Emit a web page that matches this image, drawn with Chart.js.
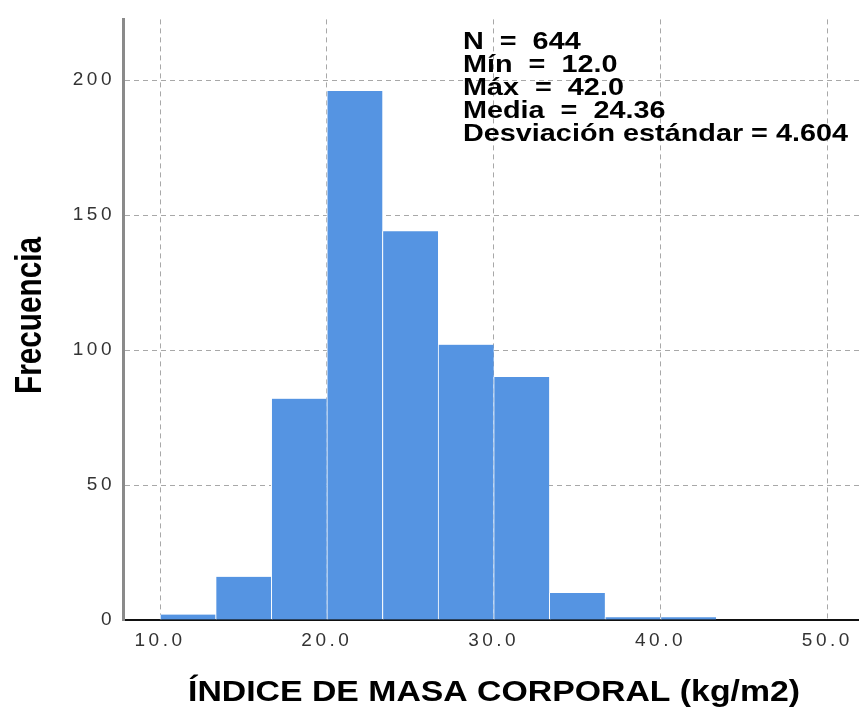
<!DOCTYPE html>
<html>
<head>
<meta charset="utf-8">
<script src="https://cdn.jsdelivr.net/npm/chart.js@4"></script>
<style>
  body { margin: 0; background: #fff; }
</style>
</head>
<body>
<canvas id="chart" width="859" height="709"></canvas>
<script>
// histogram bins (kg/m2) and frequencies
const binEdges = [10.0, 13.33, 16.67, 20.0, 23.33, 26.67, 30.0, 33.33, 36.67, 40.0, 43.33];
const counts = [2, 16, 82, 196, 144, 102, 90, 10, 1, 1];
const xTicks = [10, 20, 30, 40, 50];
const yTicks = [0, 50, 100, 150, 200];
const statsLines = ["N = 644", "Mín = 12.0", "Máx = 42.0", "Media = 24.36", "Desviación estándar = 4.604"];
const xTitle = "ÍNDICE DE MASA CORPORAL (kg/m2)";
const yTitle = "Frecuencia";

const barData = counts.map((c, i) => ({ x: (binEdges[i] + binEdges[i + 1]) / 2, y: c }));

// tick labels in the picture are wide, add some spacing
const tickSpacing = {
    id: "tickSpacing",
    beforeDraw(chart) { chart.ctx.letterSpacing = "3.5px"; },
    beforeDatasetsDraw(chart) { chart.ctx.letterSpacing = "0px"; }
};

function stretchedText(ctx, text, x, y, opts) {
    ctx.save();
    ctx.font = opts.font;
    ctx.fillStyle = "#000";
    ctx.textBaseline = "alphabetic";
    ctx.textAlign = opts.align || "left";
    ctx.translate(x, y);
    if (opts.rotate) ctx.rotate(opts.rotate);
    ctx.scale(opts.sx, opts.sy);
    ctx.fillText(text, 0, 0);
    ctx.restore();
}

const labels = {
    id: "labels",
    afterDraw(chart) {
        const ctx = chart.ctx;
        const boxFont = "bold 23px 'Liberation Sans', Arial, sans-serif";
        const titleFont = "bold 29px 'Liberation Sans', Arial, sans-serif";

        // stats box
        ctx.font = boxFont;
        const sx = 385 / ctx.measureText(statsLines[4]).width;
        statsLines.forEach((line, i) => {
            const txt = line.replace(" = ", "  =  ");
            stretchedText(ctx, i === 4 ? line : txt, 463, 48.5 + i * 23.2, { font: boxFont, sx: sx, sy: 1.05 });
        });

        // x title
        ctx.font = titleFont;
        const xsx = 612 / ctx.measureText(xTitle).width;
        stretchedText(ctx, xTitle, 494, 701, { font: titleFont, sx: xsx, sy: 1, align: "center" });

        // y title
        const ysx = 157 / ctx.measureText(yTitle).width;
        stretchedText(ctx, yTitle, 40.5, 315.5, {
            font: titleFont, sx: ysx, sy: 1.28, align: "center", rotate: -Math.PI / 2
        });
    }
};

new Chart(document.getElementById("chart"), {
    type: "bar",
    data: {
        datasets: [{
            data: barData,
            backgroundColor: "#5594e2",
            borderColor: "#ffffff",
            borderWidth: { left: 1, right: 0, top: 0, bottom: 0 },
            borderSkipped: false,
            barPercentage: 1,
            categoryPercentage: 1
        }]
    },
    options: {
        responsive: false,
        animation: false,
        layout: { padding: { top: 14, right: 0, left: 0, bottom: 0 } },
        plugins: {
            legend: { display: false },
            tooltip: { enabled: false }
        },
        scales: {
            x: {
                type: "linear",
                offset: false,
                min: 7.78,
                max: 51.9,
                afterFit: s => { s.height = 89; },
                afterBuildTicks: s => { s.ticks = xTicks.map(v => ({ value: v })); },
                grid: {
                    offset: false,
                    color: "#a8a8a8",
                    lineWidth: 1,
                    drawTicks: false
                },
                border: { display: true, color: "#111", width: 2, dash: [5, 4] },
                ticks: {
                    padding: 9,
                    color: "#333",
                    font: { family: "'Liberation Sans', Arial, sans-serif", size: 19 },
                    callback: v => v.toFixed(1)
                }
            },
            y: {
                min: 0,
                max: 222.5,
                afterFit: s => { s.width = 123; },
                afterBuildTicks: s => { s.ticks = yTicks.map(v => ({ value: v })); },
                grid: {
                    color: "#a8a8a8",
                    lineWidth: 1,
                    drawTicks: false
                },
                border: { display: true, color: "#8a8a8a", width: 3, dash: [5, 4] },
                ticks: {
                    padding: 8,
                    color: "#333",
                    font: { family: "'Liberation Sans', Arial, sans-serif", size: 19 },
                    callback: v => String(v)
                }
            }
        }
    },
    plugins: [tickSpacing, labels]
});
</script>
</body>
</html>
